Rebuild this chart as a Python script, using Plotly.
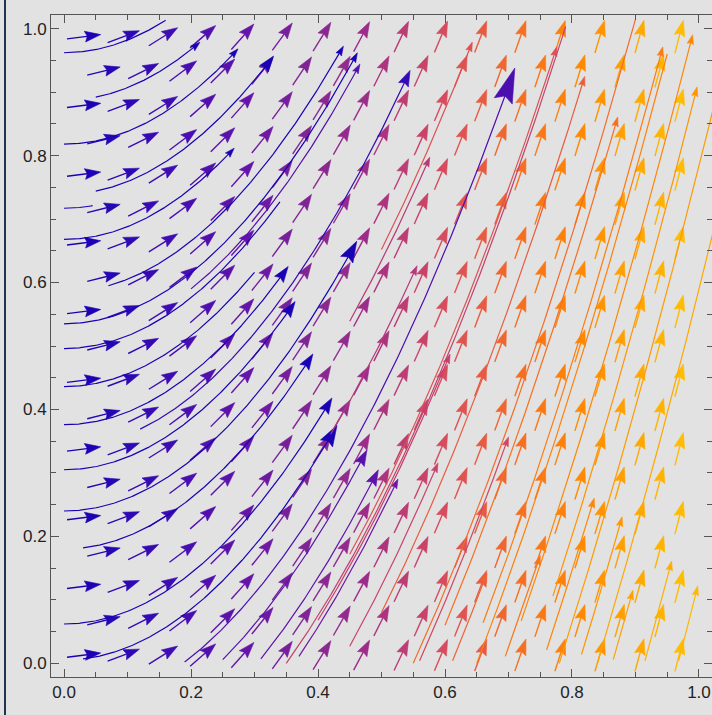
import numpy as np
import plotly.graph_objects as go

# ---- vector field v(x, y) = (1, FIELD_K * x) ----
FIELD_K = 4.0

def field(x, y):
    return np.array([1.0, FIELD_K * x])

# ---- colour ramp (position in [0, 1] -> colour) ----
RAMP_POS = [0.0, 0.15, 0.28, 0.40, 0.47, 0.53, 0.60, 0.66, 0.70, 0.76,
            0.82, 0.89, 1.0]
RAMP_HEX = ["#1400b4", "#3c0cb4", "#6414a8", "#882890", "#9c2c8a",
            "#bc3c74", "#d84c5c", "#e85c40", "#f46a28", "#fc7a10",
            "#ff8c00", "#ffa400", "#ffc600"]

# ---- hexagonal sampling grid for the arrow glyphs ----
N_COLS = 16
N_ROWS = 19
ROW_Y0 = 0.013
ROW_DY = np.sqrt(3) / 2 / N_COLS

# ---- streamlines: seed (x0, y0), end x1, end-marker size class, tone ----
STREAM_X0 = [0.00, 0.05, 0.00, 0.05, 0.00, 0.00, 0.07, 0.00, 0.00, 0.00,
             0.00, 0.00, 0.00, 0.03, 0.00, 0.03,
             0.12, 0.19, 0.25, 0.31, 0.20, 0.37,
             0.45, 0.42, 0.40, 0.45, 0.50, 0.56,
             0.50, 0.45, 0.60, 0.66, 0.72, 0.77, 0.76, 0.815, 0.695, 0.915,
             0.968, 0.612, 0.865,
             0.55, 0.65, 0.35, 0.78, 0.84]
STREAM_Y0 = [0.962, 0.892, 0.818, 0.744, 0.717, 0.668, 0.595, 0.535, 0.496, 0.436,
             0.376, 0.305, 0.240, 0.182, 0.062, 0.007,
             0.369, 0.002, 0.006, 0.007, 0.590, 0.011,
             0.539, 0.361, 0.068, 0.027, 0.652, 0.004,
             0.080, 0.172, 0.060, 0.064, 0.067, 0.106, 0.021, 0.014, 0.011, 0.004,
             0.004, 0.004, 0.006,
             0.000, 0.000, 0.000, 0.000, 0.000]
STREAM_X1 = [0.16, 0.214, 0.274, 0.33, 0.045, 0.268, 0.44, 0.462, 0.34, 0.30,
             0.353, 0.364, 0.461, 0.392, 0.422, 0.43,
             0.545, 0.71, 0.477, 0.495, 0.466, 0.526,
             0.576, 0.556, 0.608, 0.589, 0.643, 0.70,
             0.82, 0.776, 0.872, 0.943, 0.99, 0.997, 0.835, 0.879, 0.75, 0.957,
             0.998, 0.666, 0.896,
             0.90, 0.95, 0.79, 1.03, 1.03]
STREAM_HEAD = [0, 1, 1, 2, 0, 1, 1, 1, 0, 0,
               2, 2, 3, 2, 2, 3,
               2, 4, 2, 2, 1, 1,
               1, 1, 1, 1, 1, 1,
               1, 1, 1, 1, 1, 1, 1, 1, 1, 1,
               1, 1, 1,
               0, 0, 0, 0, 0]
STREAM_TONE = [0.02] * 16 + \
              [0.12, 0.20, 0.24, 0.26, 0.22, 0.30,
               0.52, 0.52, 0.55, 0.56, 0.62, 0.58,
               0.66, 0.62, 0.72, 0.76, 0.80, 0.84, 0.80, 0.85, 0.74, 0.92,
               0.95, 0.68, 0.88,
               0.70, 0.78, 0.55, 0.86, 0.90]

# head (length, half width) in data units for each size class
HEAD_SIZES = {1: (0.015, 0.005), 2: (0.025, 0.0085),
              3: (0.033, 0.011), 4: (0.055, 0.015)}

ARROW_LEN = 0.0535
ARROW_HEAD = (0.025, 0.0085)

RAMP_RGB = [tuple(int(h[i:i + 2], 16) for i in (1, 3, 5)) for h in RAMP_HEX]


def color_at(t):
    t = float(np.clip(t, 0, 1))
    chans = [np.interp(t, RAMP_POS, [c[i] for c in RAMP_RGB]) for i in range(3)]
    return "rgb(%d,%d,%d)" % tuple(int(round(c)) for c in chans)


def head_polygon(tip, u, length, half):
    n = np.array([-u[1], u[0]])
    base = tip - u * length
    notch = tip - u * length * 0.85
    return [tip, base + n * half, notch, base - n * half, tip]


fig = go.Figure()

# ---- arrow glyphs on the hexagonal grid, grouped per column ----
columns = {}
for j in range(N_ROWS):
    y = ROW_Y0 + j * ROW_DY
    if j % 2 == 0:
        xs = [(k + 0.5) / N_COLS for k in range(N_COLS)]
    else:
        xs = [k / N_COLS for k in range(1, N_COLS)]
    for x in xs:
        columns.setdefault(round(x, 6), []).append(y)

for x, ys in sorted(columns.items()):
    col = color_at(x)
    sx, sy, hx, hy = [], [], [], []
    for y in ys:
        v = field(x, y)
        u = v / np.linalg.norm(v)
        c = np.array([x, y])
        tail = c - u * ARROW_LEN / 2
        tip = c + u * ARROW_LEN / 2
        shaft_end = tip - u * ARROW_HEAD[0] * 0.75
        sx += [tail[0], shaft_end[0], None]
        sy += [tail[1], shaft_end[1], None]
        for p in head_polygon(tip, u, *ARROW_HEAD):
            hx.append(p[0]); hy.append(p[1])
        hx.append(None); hy.append(None)
    fig.add_trace(go.Scatter(x=sx, y=sy, mode="lines",
                             line=dict(color=col, width=1.4),
                             hoverinfo="skip", showlegend=False))
    fig.add_trace(go.Scatter(x=hx, y=hy, mode="lines", fill="toself",
                             fillcolor=col, line=dict(color=col, width=0.6),
                             hoverinfo="skip", showlegend=False))


# ---- streamlines integrated through the field ----
def slope(px, py):
    v = field(px, py)
    return v[1] / v[0]


def trace_stream(x0, y0, x1, steps=200):
    h = (x1 - x0) / steps
    pts = [(x0, y0)]
    x, y = x0, y0
    for _ in range(steps):
        k1 = slope(x, y)
        k2 = slope(x + h / 2, y + h * k1 / 2)
        k3 = slope(x + h / 2, y + h * k2 / 2)
        k4 = slope(x + h, y + h * k3)
        y = y + h * (k1 + 2 * k2 + 2 * k3 + k4) / 6
        x = x + h
        pts.append((x, y))
    return np.array(pts)


for x0, y0, x1, hs, tone in zip(STREAM_X0, STREAM_Y0, STREAM_X1,
                                STREAM_HEAD, STREAM_TONE):
    col = color_at(tone)
    pts = trace_stream(x0, y0, x1)
    tip = pts[-1]
    v = field(*tip)
    u = v / np.linalg.norm(v)
    line_pts = pts
    if hs:
        hl, hw = HEAD_SIZES[hs]
        cut = tip - u * hl * 0.75
        line_pts = pts[pts[:, 0] <= cut[0]]
        line_pts = np.vstack([line_pts, cut])
    fig.add_trace(go.Scatter(x=line_pts[:, 0], y=line_pts[:, 1], mode="lines",
                             line=dict(color=col, width=1.2),
                             hoverinfo="skip", showlegend=False))
    if hs:
        poly = np.array(head_polygon(tip, u, hl, hw))
        fig.add_trace(go.Scatter(x=poly[:, 0], y=poly[:, 1], mode="lines",
                                 fill="toself", fillcolor=col,
                                 line=dict(color=col, width=0.6),
                                 hoverinfo="skip", showlegend=False))

BG = "#e2e2e2"
FRAME = "#555555"
axis_common = dict(
    showgrid=False, zeroline=False, showline=True, linecolor=FRAME,
    linewidth=1, mirror="allticks", ticks="inside", ticklen=8,
    tickcolor=FRAME, tickwidth=1, dtick=0.2, tick0=0, tickformat=".1f",
    tickfont=dict(family="Liberation Sans, Arial, sans-serif", size=17,
                  color="#222222"),
    minor=dict(ticks="inside", ticklen=5, dtick=0.05, tick0=0,
               tickcolor=FRAME, showgrid=False),
)

fig.update_layout(
    width=712, height=715,
    margin=dict(l=51, r=0, t=15, b=38),
    paper_bgcolor=BG, plot_bgcolor=BG,
    xaxis=dict(range=[-0.0205, 1.0205], **axis_common),
    yaxis=dict(range=[-0.0215, 1.0215], **axis_common),
    shapes=[dict(type="line", xref="paper", yref="paper",
                 x0=-46 / 661, x1=-46 / 661, y0=-38 / 662, y1=1 + 15 / 662,
                 line=dict(color="#1c3550", width=2))],
)

fig.write_html("out.html")
